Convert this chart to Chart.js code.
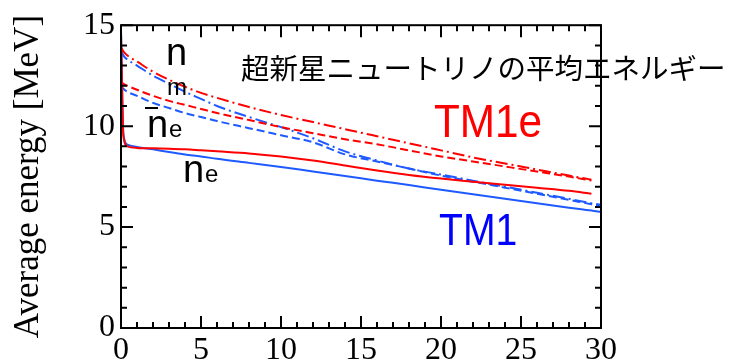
<!DOCTYPE html>
<html>
<head>
<meta charset="utf-8">
<script src="https://cdn.jsdelivr.net/npm/chart.js@4/dist/chart.umd.min.js"></script>
<style>
  body { margin: 0; background: #fff; }
  canvas { display: block; }
</style>
</head>
<body>
<canvas id="energyChart" width="742" height="361"></canvas>
<script>
// time after bounce [s]
const times = [0, 0.15, 0.4, 1, 2, 3, 4, 5, 6, 8, 10, 12, 14, 16, 18, 20, 22, 24, 26, 28, 29.4, 30]

// average energies [MeV]
const tm1eNue    = [14.6, 9.5, 9.0, 8.92, 8.9, 8.88, 8.85, 8.8, 8.75, 8.65, 8.5, 8.3, 8.05, 7.8, 7.58, 7.4, 7.25, 7.1, 6.95, 6.8, 6.65, null]
const tm1Nue     = [14.8, 9.6, 9.08, 8.97, 8.85, 8.72, 8.6, 8.5, 8.38, 8.18, 7.98, 7.75, 7.53, 7.3, 7.08, 6.85, 6.63, 6.4, 6.18, 5.96, 5.82, 5.75]
const tm1eNumu   = [13.9, 13.7, 13.5, 13.2, 12.7, 12.3, 11.95, 11.65, 11.4, 10.95, 10.55, 10.2, 9.85, 9.5, 9.15, 8.8, 8.45, 8.15, 7.85, 7.55, 7.35, null]
const tm1Numu    = [13.8, 13.5, 13.3, 13.0, 12.5, 12.1, 11.7, 11.35, 11.0, 10.45, 9.95, 9.4, 8.75, 8.3, 7.9, 7.6, 7.3, 7.0, 6.7, 6.4, 6.18, 6.1]
const tm1eNuebar = [12.2, 12.1, 12.0, 11.8, 11.5, 11.25, 11.05, 10.85, 10.65, 10.3, 9.95, 9.65, 9.35, 9.1, 8.8, 8.5, 8.25, 8.0, 7.75, 7.5, 7.3, null]
const tm1Nuebar  = [12.0, 11.85, 11.7, 11.5, 11.15, 10.9, 10.65, 10.45, 10.25, 9.9, 9.55, 9.2, 8.6, 8.25, 7.9, 7.55, 7.25, 6.95, 6.65, 6.35, 6.13, 6.05]

const xTicks = [0, 5, 10, 15, 20, 25, 30]
const yTicks = [0, 5, 10, 15]

const RED = 'rgb(255, 0, 0)'
const BLUE = 'rgb(30, 90, 255)'
const SERIF = '"Liberation Serif", "Times New Roman", Times, serif'
const SANS = '"Liberation Sans", Arial, sans-serif'

Chart.defaults.font.family = SERIF

function points(values){
    return times.map((t, i) => ({x: t, y: values[i]})).filter(p => p.y !== null)
}

// narrow text, like the condensed face of the original slide
function condensedText(ctx, text, x, y, squeeze){
    ctx.save()
    ctx.translate(x, y)
    ctx.scale(squeeze, 1)
    ctx.fillText(text, 0, 0)
    ctx.restore()
}

// inward ticks on all four sides plus the frame, and the text labels
const framePlugin = {
    id: 'frame',
    afterDraw(chart){
        const ctx = chart.ctx
        const a = chart.chartArea
        const xs = chart.scales.x
        const ys = chart.scales.y
        ctx.save()
        ctx.strokeStyle = '#000'
        ctx.lineWidth = 2
        ctx.strokeRect(a.left, a.top, a.right - a.left, a.bottom - a.top)
        ctx.beginPath()
        for (let v = 0; v <= 30; v++) {
            const px = xs.getPixelForValue(v)
            const len = v % 5 === 0 ? 12 : 6
            ctx.moveTo(px, a.bottom); ctx.lineTo(px, a.bottom - len)
            ctx.moveTo(px, a.top); ctx.lineTo(px, a.top + len)
        }
        for (let v = 0; v <= 15; v++) {
            const py = ys.getPixelForValue(v)
            const len = v % 5 === 0 ? 12 : 6
            ctx.moveTo(a.left, py); ctx.lineTo(a.left + len, py)
            ctx.moveTo(a.right, py); ctx.lineTo(a.right - len, py)
        }
        ctx.stroke()

        ctx.fillStyle = '#000'
        ctx.textBaseline = 'alphabetic'
        ctx.textAlign = 'left'
        ctx.font = '38px ' + SANS
        ctx.fillText('n', 166, 65)
        ctx.fillText('n', 147, 137)
        ctx.fillText('n', 183, 182)
        ctx.font = '24px ' + SANS
        ctx.fillText('m', 167, 95)
        ctx.fillText('e', 169, 137)
        ctx.fillText('e', 205, 182)
        ctx.fillRect(145, 107, 13, 2)

        ctx.font = '28.5px "Noto Sans CJK JP", sans-serif'
        ctx.fillText('超新星ニュートリノの平均エネルギー', 241, 79)

        ctx.font = '47px ' + SANS
        ctx.fillStyle = RED
        condensedText(ctx, 'TM1e', 434, 137, 0.9)
        ctx.font = '45px ' + SANS
        ctx.fillStyle = 'rgb(0, 0, 255)'
        condensedText(ctx, 'TM1', 439, 245, 0.87)
        ctx.restore()
    }
}

const data = {
    datasets: [
        {label: 'TM1e nu_e', data: points(tm1eNue), borderColor: RED, borderWidth: 2},
        {label: 'TM1e nu_mu', data: points(tm1eNumu), borderColor: RED, borderWidth: 2, borderDash: [12, 4, 2, 4]},
        {label: 'TM1e anti nu_e', data: points(tm1eNuebar), borderColor: RED, borderWidth: 2, borderDash: [8, 4]},
        {label: 'TM1 nu_e', data: points(tm1Nue), borderColor: BLUE, borderWidth: 2},
        {label: 'TM1 nu_mu', data: points(tm1Numu), borderColor: BLUE, borderWidth: 2, borderDash: [12, 4, 2, 4]},
        {label: 'TM1 anti nu_e', data: points(tm1Nuebar), borderColor: BLUE, borderWidth: 2, borderDash: [8, 4]},
    ]
}

const config = {
    type: 'line',
    data: data,
    options: {
        responsive: false,
        animation: false,
        layout: {padding: {top: 22, right: 141, left: 0, bottom: 0}},
        elements: {
            point: {radius: 0},
            line: {cubicInterpolationMode: 'monotone', fill: false}
        },
        plugins: {
            legend: {display: false},
            tooltip: {enabled: false}
        },
        scales: {
            x: {
                type: 'linear',
                min: 0,
                max: 30,
                afterFit: s => { s.height = 33 },
                afterBuildTicks: s => { s.ticks = xTicks.map(v => ({value: v})) },
                grid: {display: false, drawTicks: false},
                border: {display: false},
                ticks: {
                    color: '#000',
                    padding: 3,
                    maxRotation: 0,
                    font: {family: SERIF, size: 32}
                }
            },
            y: {
                type: 'linear',
                min: 0,
                max: 15,
                afterFit: s => { s.width = 121 },
                afterBuildTicks: s => { s.ticks = yTicks.map(v => ({value: v})) },
                grid: {display: false, drawTicks: false},
                border: {display: false},
                ticks: {
                    color: '#000',
                    padding: 6,
                    font: {family: SERIF, size: 32}
                },
                title: {
                    display: true,
                    text: 'Average energy [MeV]',
                    color: '#000',
                    padding: {top: 8, bottom: 0},
                    font: {family: SERIF, size: 35}
                }
            }
        }
    },
    plugins: [framePlugin]
}

const myChart = new Chart(document.getElementById('energyChart'), config)
</script>
</body>
</html>
